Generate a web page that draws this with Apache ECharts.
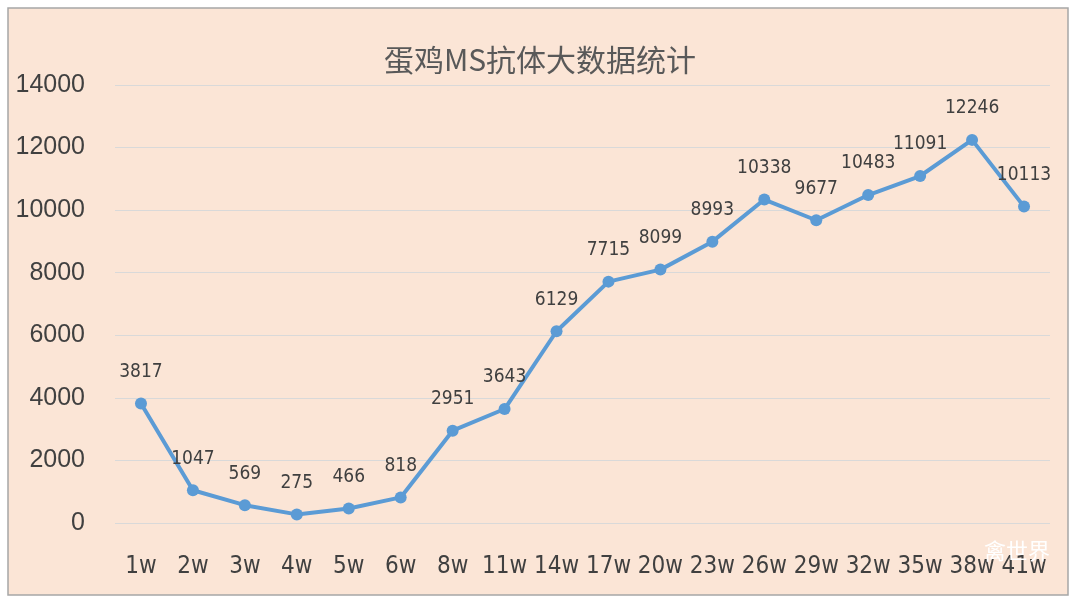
<!DOCTYPE html>
<html>
<head>
<meta charset="utf-8">
<script src="https://cdn.jsdelivr.net/npm/echarts@6/dist/echarts.min.js"></script>
<style>html,body{margin:0;padding:0;background:#fff}#main{width:1080px;height:608px}</style>
</head>
<body>
<div id="main"></div>
<script>
var weeks = ['1w','2w','3w','4w','5w','6w','8w','11w','14w','17w','20w','23w','26w','29w','32w','35w','38w','41w'];
var values = [3817,1047,569,275,466,818,2951,3643,6129,7715,8099,8993,10338,9677,10483,11091,12246,10113];

var chart = echarts.init(document.getElementById('main'));
chart.setOption({
  backgroundColor: '#fff',
  graphic: [
    { type: 'rect', z: -10, shape: { x: 8, y: 8, width: 1060, height: 587 },
      style: { fill: '#FBE5D6', stroke: '#A6A6A6', lineWidth: 1.5 } },
    { type: 'text', right: 30, top: 540, z: 10,
      style: { text: '禽世界', fill: '#fff', font: '22px "Noto Sans CJK SC"',
               shadowColor: 'rgba(0,0,0,0.6)', shadowBlur: 3 } }
  ],
  title: {
    text: '蛋鸡MS抗体大数据统计', left: 'center', top: 40,
    textStyle: { fontFamily: '"Noto Sans CJK SC"', fontSize: 30, fontWeight: 'normal', color: '#595959' }
  },
  grid: { left: 115, right: 30, top: 85, bottom: 85 },
  xAxis: {
    type: 'category', data: weeks,
    axisLine: { show: false }, axisTick: { show: false },
    axisLabel: { interval: 0, fontFamily: '"DejaVu Sans Condensed"', fontSize: 24, color: '#404040', margin: 32 }
  },
  yAxis: {
    type: 'value', min: 0, max: 14000, interval: 2000,
    axisLabel: { formatter: function (v) { return String(v); },
                 fontFamily: '"Liberation Sans"', fontSize: 25, color: '#404040', margin: 30 },
    splitLine: { lineStyle: { color: '#D9D9D9', width: 1.2 } }
  },
  series: [{
    type: 'line', data: values,
    lineStyle: { color: '#5B9BD5', width: 4 },
    itemStyle: { color: '#5B9BD5' },
    symbol: 'circle', symbolSize: 12,
    label: { show: true, position: 'top', distance: 16,
             fontFamily: '"DejaVu Sans Condensed"', fontSize: 19, color: '#404040' }
  }]
});
</script>
</body>
</html>
